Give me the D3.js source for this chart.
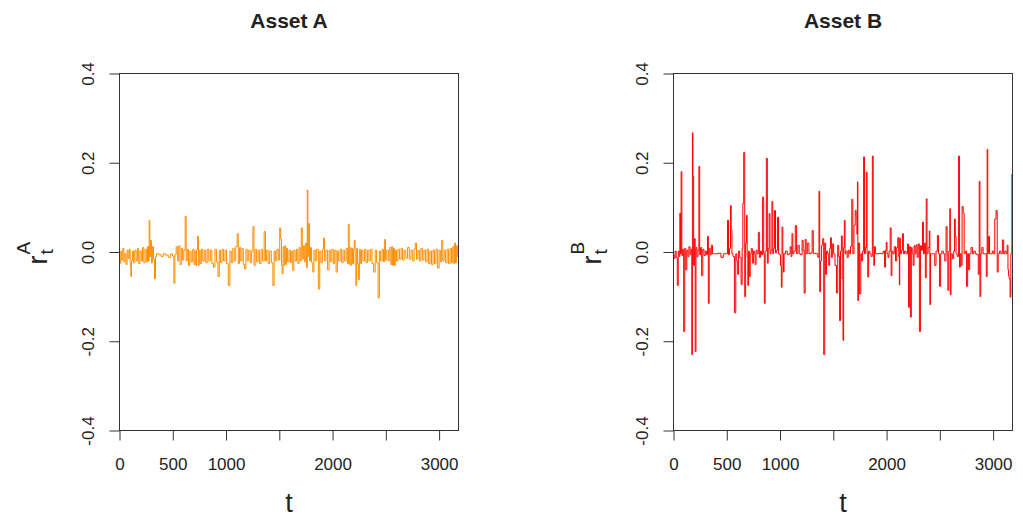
<!DOCTYPE html>
<html>
<head>
<meta charset="utf-8">
<script src="https://cdn.jsdelivr.net/npm/d3@7/dist/d3.min.js"></script>
<style>
  body { margin: 0; background: #fff; }
  text { font-family: "Liberation Sans", Arial, sans-serif; fill: #222; }
</style>
</head>
<body>
<div id="chart"></div>
<script>
// ticks and labels
const xTicks = [0, 500, 1000, 1500, 2000, 2500, 3000];
const xTickLabels = ["0", "500", "1000", "", "2000", "", "3000"]; // R drops overlapping ones
const yTicks = [-0.4, -0.2, 0, 0.2, 0.4];
const yTickLabels = ["-0.4", "-0.2", "0.0", "0.2", "0.4"];
const titles = ["Asset A", "Asset B"];
const supLetters = ["A", "B"];

// returns as [t, r]
const seriesA = [
  [0,-0.012],[8,-0.025],[16,0.002],[26,-0.018],[36,0.008],[46,-0.022],[56,-0.004],[66,-0.028],
  [76,0.004],[86,-0.015],[96,0.006],[104,-0.03],[109,-0.055],[116,-0.02],[126,0.002],[138,-0.024],
  [150,0.004],[162,-0.02],[174,0.008],[186,-0.026],[198,0.002],[210,-0.02],[222,0.01],[234,-0.024],
  [246,0.006],[258,-0.022],[268,0.012],[276,-0.02],[281,0.071],[288,-0.01],[296,0.026],[304,-0.024],
  [314,0.012],[324,-0.016],[334,-0.06],[342,-0.01],[354,-0.004],[380,-0.006],[400,-0.01],[420,-0.004],
  [445,-0.007],[470,-0.012],[490,-0.004],[505,-0.009],[516,-0.07],[524,-0.006],[540,0.012],[552,-0.02],
  [562,0.014],[574,-0.028],[586,0.008],[598,-0.018],[610,0.004],[622,0.08],[630,-0.02],[642,0.006],
  [654,-0.03],[666,0.002],[680,-0.022],[694,0.006],[704,-0.028],[712,0.002],[720,-0.03],[728,0.006],
  [737,0.035],[744,-0.03],[752,0.004],[762,-0.026],[774,0.006],[788,-0.02],[802,0.004],[816,-0.024],
  [830,0.006],[846,-0.02],[860,0.004],[874,-0.026],[890,-0.034],[902,0.006],[918,-0.022],[931,-0.055],
  [942,0.004],[956,-0.024],[970,0.006],[984,-0.02],[998,0.004],[1012,-0.026],[1031,-0.075],[1042,0.002],
  [1056,-0.024],[1070,0.008],[1084,-0.02],[1098,0.012],[1110,0.041],[1120,-0.026],[1132,0.01],[1144,-0.02],
  [1156,0.008],[1168,-0.028],[1181,-0.038],[1192,0.006],[1206,-0.02],[1220,0.004],[1234,-0.024],[1246,0.002],
  [1259,0.057],[1266,-0.03],[1280,0.006],[1294,-0.022],[1308,0.004],[1322,-0.026],[1336,0.006],[1350,-0.02],
  [1366,0.046],[1374,-0.02],[1388,0.004],[1402,-0.026],[1418,0.002],[1432,-0.024],[1447,-0.075],[1456,0.002],
  [1470,-0.02],[1484,0.006],[1498,-0.018],[1509,0.054],[1516,0.03],[1524,-0.03],[1531,-0.049],[1540,0.012],
  [1548,-0.03],[1556,0.014],[1564,-0.028],[1572,0.008],[1584,-0.022],[1598,0.004],[1612,-0.024],[1622,0.002],
  [1631,-0.042],[1642,0.004],[1656,-0.02],[1668,0.006],[1680,-0.026],[1692,0.01],[1700,-0.02],[1712,0.054],
  [1720,-0.016],[1732,0.014],[1744,-0.022],[1752,0.02],[1760,-0.035],[1765,0.139],[1772,-0.01],[1780,0.064],
  [1788,-0.02],[1798,0.01],[1808,-0.024],[1820,-0.045],[1830,0.004],[1844,-0.02],[1858,0.006],[1875,-0.083],
  [1884,0.002],[1898,-0.024],[1910,0.006],[1920,0.031],[1930,-0.02],[1944,0.004],[1962,-0.04],[1972,0.004],
  [1986,-0.022],[2000,0.006],[2014,-0.026],[2026,0.004],[2040,-0.045],[2050,0.002],[2064,-0.02],[2078,0.006],
  [2092,-0.024],[2106,0.004],[2120,-0.02],[2134,0.008],[2144,-0.026],[2152,0.062],[2160,-0.028],[2168,0.01],
  [2176,-0.03],[2184,0.008],[2192,-0.026],[2200,0.006],[2208,0.026],[2215,-0.028],[2222,-0.075],[2230,0.008],
  [2238,-0.026],[2247,-0.062],[2256,0.006],[2266,-0.026],[2278,0.004],[2292,-0.02],[2306,0.006],[2320,-0.024],
  [2334,0.004],[2348,-0.02],[2362,0.006],[2378,-0.026],[2394,-0.045],[2406,0.004],[2420,-0.024],[2434,-0.103],
  [2444,0.002],[2458,-0.02],[2472,0.006],[2484,-0.022],[2493,0.028],[2502,-0.018],[2516,0.004],[2530,-0.02],
  [2544,0.01],[2552,-0.028],[2560,0.012],[2568,-0.03],[2576,0.008],[2584,-0.03],[2594,0.004],[2606,-0.02],
  [2620,0.006],[2636,-0.016],[2650,0.008],[2664,-0.018],[2680,0.004],[2696,-0.014],[2712,0.01],[2728,-0.016],
  [2744,0.004],[2760,-0.02],[2772,0.006],[2782,0.02],[2794,-0.016],[2808,0.004],[2822,-0.02],[2836,0.008],
  [2850,-0.018],[2866,0.004],[2880,-0.022],[2894,0.006],[2908,-0.026],[2922,0.002],[2936,-0.028],[2950,0.004],
  [2964,-0.026],[2978,0.006],[2994,-0.036],[3006,0.004],[3018,-0.022],[3030,0.026],[3040,-0.02],[3054,0.004],
  [3068,-0.024],[3082,0.006],[3096,-0.026],[3110,0.008],[3122,-0.024],[3134,0.012],[3142,-0.026],[3150,0.02],
  [3158,-0.024],[3166,0.014],[3182,-0.01]
];

const seriesB = [
  [0,-0.006],[10,-0.014],[20,0.002],[30,-0.012],[41,-0.075],[48,0.002],[56,-0.01],[63,0.087],
  [68,-0.004],[75,0.18],[82,-0.008],[90,0.006],[101,-0.178],[110,0.008],[120,-0.04],[130,0.004],
  [140,-0.01],[150,0.012],[160,-0.006],[168,0.006],[176,-0.23],[179,0.267],[186,0.17],[192,-0.03],
  [200,0.03],[207,-0.223],[215,0.01],[225,-0.01],[235,0.004],[242,0.192],[250,-0.006],[258,0.01],
  [270,-0.053],[280,0.006],[292,-0.008],[304,0.002],[314,-0.006],[324,0.035],[330,-0.115],[340,0.008],
  [350,-0.006],[360,0.015],[372,-0.004],[400,-0.004],[430,-0.003],[460,-0.012],[475,-0.004],[500,-0.004],
  [513,0.071],[520,-0.006],[532,0.008],[538,0.104],[545,0.05],[552,-0.004],[565,-0.01],[579,-0.136],
  [590,-0.004],[598,-0.02],[607,-0.05],[615,0.002],[628,-0.012],[641,-0.073],[648,0.008],[654,0.109],
  [664,0.223],[673,-0.1],[681,0.02],[688,0.082],[695,-0.01],[701,-0.075],[708,0.002],[716,-0.055],
  [724,-0.004],[735,0.008],[745,-0.025],[755,0.002],[762,-0.004],[770,-0.028],[780,0.004],[790,-0.004],
  [802,0.044],[810,-0.012],[822,0.002],[830,-0.006],[843,0.123],[850,-0.004],[855,-0.115],[866,0.002],
  [877,0.21],[885,-0.025],[893,0.008],[902,0.086],[910,-0.004],[920,0.004],[928,0.113],[936,-0.004],
  [944,0.008],[953,0.093],[962,-0.002],[970,0.004],[981,0.078],[990,-0.004],[1000,-0.006],[1008,-0.03],
  [1016,-0.079],[1022,0.056],[1030,-0.004],[1034,-0.045],[1042,-0.004],[1060,0.002],[1075,-0.006],[1090,-0.004],
  [1100,0.012],[1108,-0.01],[1116,0.041],[1124,-0.004],[1135,0.002],[1151,0.059],[1160,-0.004],[1175,0.015],
  [1185,-0.004],[1200,-0.006],[1214,0.026],[1220,0.004],[1232,-0.092],[1240,0.028],[1250,-0.004],[1262,0.02],
  [1280,-0.004],[1295,-0.002],[1308,0.048],[1316,-0.004],[1330,-0.003],[1350,-0.004],[1360,-0.012],[1371,0.136],
  [1374,-0.089],[1385,-0.02],[1395,0.015],[1405,0.03],[1415,-0.23],[1424,0.02],[1432,-0.05],[1442,0.002],
  [1452,-0.004],[1462,-0.03],[1470,0.008],[1478,0.032],[1486,-0.012],[1496,0.018],[1510,-0.004],[1522,-0.03],
  [1537,-0.092],[1546,0.015],[1555,-0.01],[1563,-0.154],[1572,0.002],[1580,0.036],[1588,-0.06],[1594,-0.198],
  [1600,0.01],[1607,0.071],[1614,-0.004],[1624,0.002],[1635,-0.012],[1645,0.004],[1655,-0.004],[1668,0.012],
  [1679,0.118],[1688,-0.004],[1700,0.06],[1711,0.093],[1718,0.078],[1724,0.04],[1729,0.157],[1732,-0.109],
  [1740,0.02],[1754,-0.094],[1762,-0.004],[1770,-0.02],[1780,0.002],[1789,0.213],[1796,-0.004],[1806,0.01],
  [1814,0.179],[1820,-0.004],[1827,-0.056],[1836,0.002],[1848,-0.004],[1862,-0.01],[1871,0.215],[1878,0.01],
  [1883,-0.03],[1890,0.012],[1900,-0.004],[1920,-0.004],[1940,-0.003],[1960,-0.004],[1975,0.002],[1987,-0.034],
  [1994,0.004],[2000,0.022],[2008,-0.004],[2018,-0.012],[2028,0.002],[2040,0.054],[2046,-0.053],[2054,0.002],
  [2066,-0.004],[2078,0.012],[2090,-0.02],[2100,0.01],[2110,0.032],[2118,-0.01],[2122,-0.074],[2125,0.031],
  [2134,-0.004],[2144,0.004],[2154,0.041],[2162,-0.004],[2175,0.002],[2190,-0.004],[2202,0.018],[2210,-0.124],
  [2218,0.012],[2229,-0.146],[2236,0.01],[2245,-0.004],[2254,-0.03],[2262,0.014],[2272,-0.004],[2282,0.016],
  [2292,-0.012],[2302,0.018],[2314,-0.178],[2322,0.014],[2332,0.004],[2342,0.067],[2350,-0.004],[2360,0.02],
  [2368,-0.058],[2376,0.119],[2384,-0.004],[2396,0.01],[2405,0.047],[2408,-0.118],[2416,-0.004],[2430,-0.004],
  [2446,-0.004],[2458,-0.03],[2470,0.002],[2484,0.037],[2492,-0.004],[2503,-0.077],[2512,-0.004],[2525,0.002],
  [2540,-0.004],[2552,-0.02],[2565,0.057],[2572,-0.004],[2578,-0.086],[2590,0.002],[2597,0.097],[2600,-0.096],
  [2610,-0.004],[2625,-0.015],[2635,0.002],[2641,0.074],[2648,0.035],[2656,-0.004],[2670,-0.01],[2682,0.215],
  [2688,-0.034],[2696,-0.004],[2705,-0.03],[2713,0.102],[2725,0.087],[2732,-0.004],[2745,0.002],[2757,-0.077],
  [2765,-0.004],[2775,-0.04],[2785,-0.004],[2800,0.01],[2812,-0.004],[2826,0.002],[2840,-0.004],[2855,-0.006],
  [2866,-0.05],[2873,0.158],[2880,-0.1],[2888,-0.004],[2900,0.01],[2912,-0.004],[2930,-0.004],[2942,-0.055],
  [2946,0.23],[2954,-0.004],[2962,0.035],[2970,-0.004],[2985,-0.004],[3000,0.002],[3010,-0.004],[3021,0.074],
  [3034,0.093],[3043,-0.045],[3052,-0.004],[3066,0.002],[3080,-0.004],[3094,0.027],[3104,-0.004],[3116,0.002],
  [3128,-0.004],[3136,0.015],[3143,-0.04],[3147,-0.053],[3155,-0.06],[3163,-0.101],[3170,-0.004],[3182,0.175]
];

// layout
var width = 1023;
var height = 516;
var plotW = 339;
var plotTop = 73;
var plotBottom = 430;
var tMax = 3182;
var lefts = [119, 673];
var colors = ["darkorange", "red"];
var datasets = [seriesA, seriesB];

var svg = d3.select("#chart")
  .append("svg")
  .attr("width", width)
  .attr("height", height);

datasets.forEach(function(data, i) {
  var g = svg.append("g")
    .attr("transform", `translate(${lefts[i] + 0.5}, 0.5)`);

  const x = d3.scaleLinear().domain([0, tMax]).range([0, plotW]);
  const y = d3.scaleLinear().domain([-0.4, 0.4]).range([plotBottom, plotTop]);

  g.append("clipPath")
    .attr("id", "clip" + i)
    .append("rect")
    .attr("x", 0).attr("y", plotTop)
    .attr("width", plotW).attr("height", plotBottom - plotTop);

  // step curve keeps the spikes vertical, like the dense R line
  const line = d3.line()
    .curve(d3.curveStep)
    .x(d => x(d[0]))
    .y(d => y(d[1]));

  g.append("path")
    .datum(data)
    .attr("d", line)
    .attr("fill", "none")
    .attr("stroke", colors[i])
    .attr("stroke-width", 1)
    .attr("clip-path", `url(#clip${i})`);

  // plot box
  g.append("rect")
    .attr("x", 0).attr("y", plotTop)
    .attr("width", plotW).attr("height", plotBottom - plotTop)
    .attr("fill", "none")
    .attr("stroke", "#333");

  // x axis
  var xa = g.append("g")
    .attr("transform", `translate(0, ${plotBottom})`)
    .call(d3.axisBottom(x)
      .tickValues(xTicks)
      .tickSize(10)
      .tickPadding(17)
      .tickFormat((d, j) => xTickLabels[j]));
  xa.select(".domain").remove();
  xa.selectAll("line").attr("stroke", "#333");
  xa.selectAll("text")
    .attr("font-size", "17px")
    .attr("font-family", null)
    .attr("fill", "#222");

  // y axis, labels turned like R does
  var ya = g.append("g")
    .call(d3.axisLeft(y)
      .tickValues(yTicks)
      .tickSize(10)
      .tickFormat((d, j) => yTickLabels[j]));
  ya.select(".domain").remove();
  ya.selectAll("line").attr("stroke", "#333");
  ya.selectAll("text")
    .attr("x", 0)
    .attr("dy", null)
    .attr("text-anchor", "middle")
    .attr("transform", "translate(-26,0) rotate(-90)")
    .attr("font-size", "17px")
    .attr("font-family", null)
    .attr("fill", "#222");

  // title
  g.append("text")
    .attr("x", plotW / 2)
    .attr("y", 27)
    .attr("text-anchor", "middle")
    .attr("font-size", "21px")
    .attr("font-weight", "bold")
    .text(titles[i]);

  // x label
  g.append("text")
    .attr("x", plotW / 2)
    .attr("y", 511)
    .attr("text-anchor", "middle")
    .attr("font-size", "27px")
    .text("t");

  // y label r_t^A
  var yl = g.append("g")
    .attr("transform", "translate(-73, 253) rotate(-90)");
  yl.append("text").attr("x", -11).attr("y", 0)
    .attr("font-size", "27px").text("r");
  yl.append("text").attr("x", -1).attr("y", 6)
    .attr("font-size", "19px").text("t");
  yl.append("text").attr("x", -1).attr("y", -17)
    .attr("font-size", "19px").text(supLetters[i]);
});
</script>
</body>
</html>
